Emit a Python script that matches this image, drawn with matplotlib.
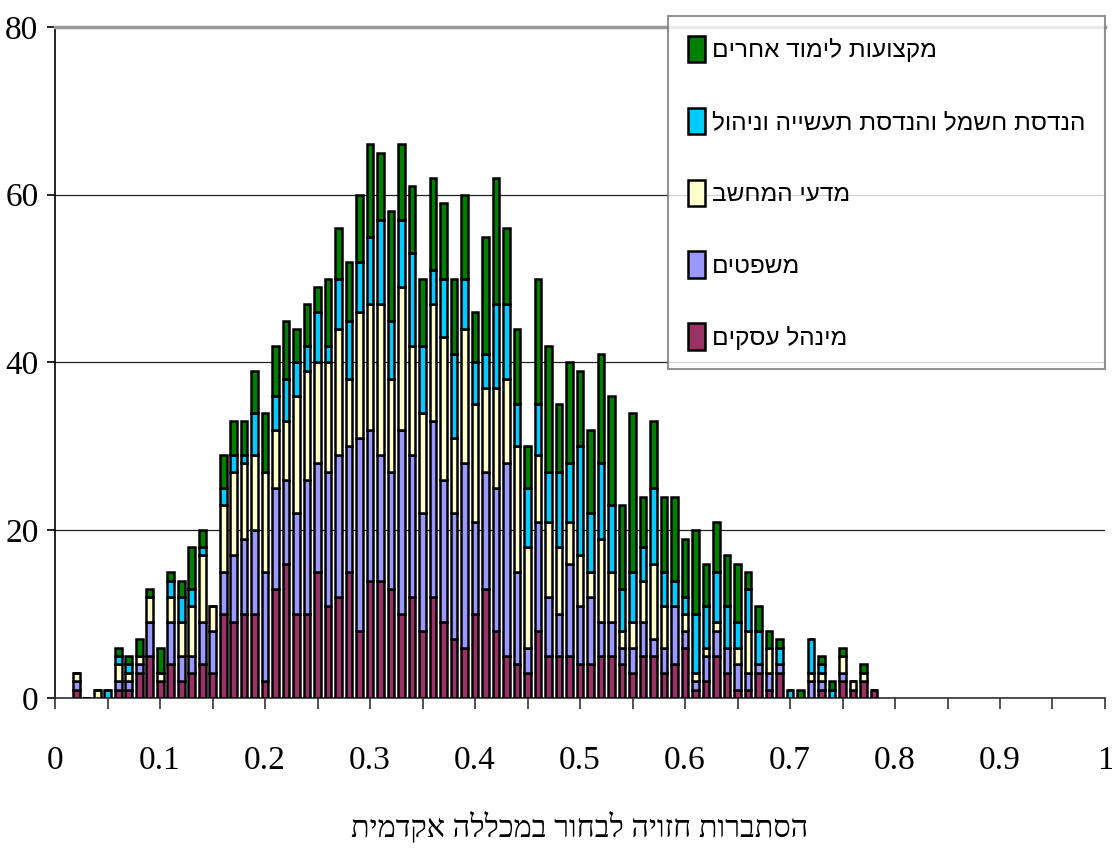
import matplotlib
matplotlib.use("Agg")
import matplotlib.pyplot as plt
import numpy as np

# x positions (predicted probability)
x_vals = [round(0.02 + 0.01 * i, 2) for i in range(77)]  # 0.02 .. 0.78

# series values (one per x position)
business = [1,0,0,0,1,1,3,5,2,4,2,3,4,3,10,9,10,10,2,13,16,10,10,15,11,12,15,8,14,14,
            13,10,12,8,12,9,7,6,10,13,8,5,4,3,8,5,5,5,4,4,5,5,4,3,5,5,3,4,6,1,
            2,5,3,1,1,3,1,3,0,0,0,1,0,2,1,2,1]
law = [1,0,0,0,1,1,1,4,0,5,3,2,5,5,5,8,9,10,13,12,10,12,16,13,16,17,15,23,18,15,
       14,22,17,14,21,17,15,22,11,14,17,23,11,3,13,7,5,11,7,8,4,4,2,3,4,2,3,7,2,1,
       3,3,3,3,2,1,2,1,0,0,2,1,0,1,0,0,0]
cs = [1,0,1,0,2,1,1,3,1,3,4,6,8,3,8,10,9,9,12,7,7,14,13,12,13,15,8,15,15,18,
      11,17,13,12,14,17,9,16,14,10,12,10,15,12,8,9,8,5,6,3,10,6,2,3,5,9,5,0,2,1,
      1,1,0,2,5,0,3,0,0,0,1,1,0,2,1,1,0]
eng = [0,0,0,1,1,1,0,0,0,2,3,2,1,0,2,2,1,5,0,4,5,4,3,6,2,6,7,6,8,10,
       7,8,11,8,4,7,10,6,5,4,10,9,5,7,6,6,9,7,13,7,9,8,5,6,4,9,4,3,2,7,
       5,6,5,3,5,4,0,2,1,0,4,1,1,0,0,0,0]
other = [0,0,0,0,1,1,2,1,3,1,2,5,2,0,4,4,4,5,7,6,7,4,5,3,8,6,7,8,11,8,
         13,9,8,8,11,9,9,10,6,14,15,9,9,5,15,15,8,12,9,10,13,13,10,19,6,8,9,10,7,10,
         5,6,6,7,2,3,2,1,0,1,0,1,1,1,0,1,0]

series_labels = ["מינהל עסקים", "משפטים", "מדעי המחשב",
                 "הנדסת חשמל והנדסת תעשייה וניהול", "מקצועות לימוד אחרים"]
series_colors = ["#993366", "#9999FF", "#FFFFCC", "#00CCFF", "#008000"]
x_ticklabels = ["0", "0.1", "0.2", "0.3", "0.4", "0.5", "0.6", "0.7", "0.8", "0.9", "1"]
y_ticks = [0, 20, 40, 60, 80]
xlabel = "הסתברות חזויה לבחור במכללה אקדמית"


def rtl(s):
    return s[::-1]


fig = plt.figure(figsize=(11.12, 8.56), dpi=100)
ax = fig.add_axes([0.0495, 0.1846, 0.9442, 0.7839])

data = [business, law, cs, eng, other]
bottom = np.zeros(len(x_vals))
handles = []
for vals, lab, col in zip(data, series_labels, series_colors):
    vals = np.array(vals, dtype=float)
    b = ax.bar(x_vals, vals, width=0.0066, bottom=bottom, color=col,
               edgecolor="black", linewidth=1.8, label=rtl(lab), zorder=3)
    handles.append(b)
    bottom += vals

ax.set_xlim(0, 1)
ax.set_ylim(0, 80)
ax.set_yticks(y_ticks)
ax.set_yticklabels([str(v) for v in y_ticks])
ax.set_xticks(np.arange(0, 1.0001, 0.1))
ax.set_xticklabels(x_ticklabels)
ax.set_xticks(np.arange(0.05, 1.0, 0.1), minor=True)

ax.grid(axis="y", color="#222222", linewidth=0.9, zorder=0)
ax.set_axisbelow(True)
ax.spines["right"].set_visible(False)
ax.spines["top"].set_color("#999999")
ax.spines["top"].set_linewidth(2.5)
ax.spines["left"].set_linewidth(1.2)
ax.spines["bottom"].set_linewidth(1.2)
ax.spines["bottom"].set_color("#333333")

for lab in ax.get_xticklabels() + ax.get_yticklabels():
    lab.set_fontfamily("Liberation Serif")
    lab.set_fontsize(24)
ax.tick_params(axis="x", which="both", direction="out", length=8, width=1.2,
               color="#333333", pad=26)
ax.tick_params(axis="y", direction="out", length=6, width=1.2, pad=6)

ax.set_xlabel(rtl(xlabel), fontsize=22, family=["Liberation Serif", "DejaVu Sans"],
              labelpad=26)

leg = ax.legend(handles[::-1], [rtl(l) for l in series_labels[::-1]],
                loc="upper left", bbox_to_anchor=(0.584, 1.016),
                borderaxespad=0, frameon=True, fancybox=False,
                prop={"family": ["Liberation Sans", "DejaVu Sans"], "size": 17.6},
                handlelength=0.7, handleheight=1.3, handletextpad=0.3,
                labelspacing=1.85, borderpad=0.8)
leg.get_frame().set_edgecolor("#777777")
leg.get_frame().set_linewidth(1.5)
leg.set_zorder(5)

fig.savefig("out.png", dpi=100)
